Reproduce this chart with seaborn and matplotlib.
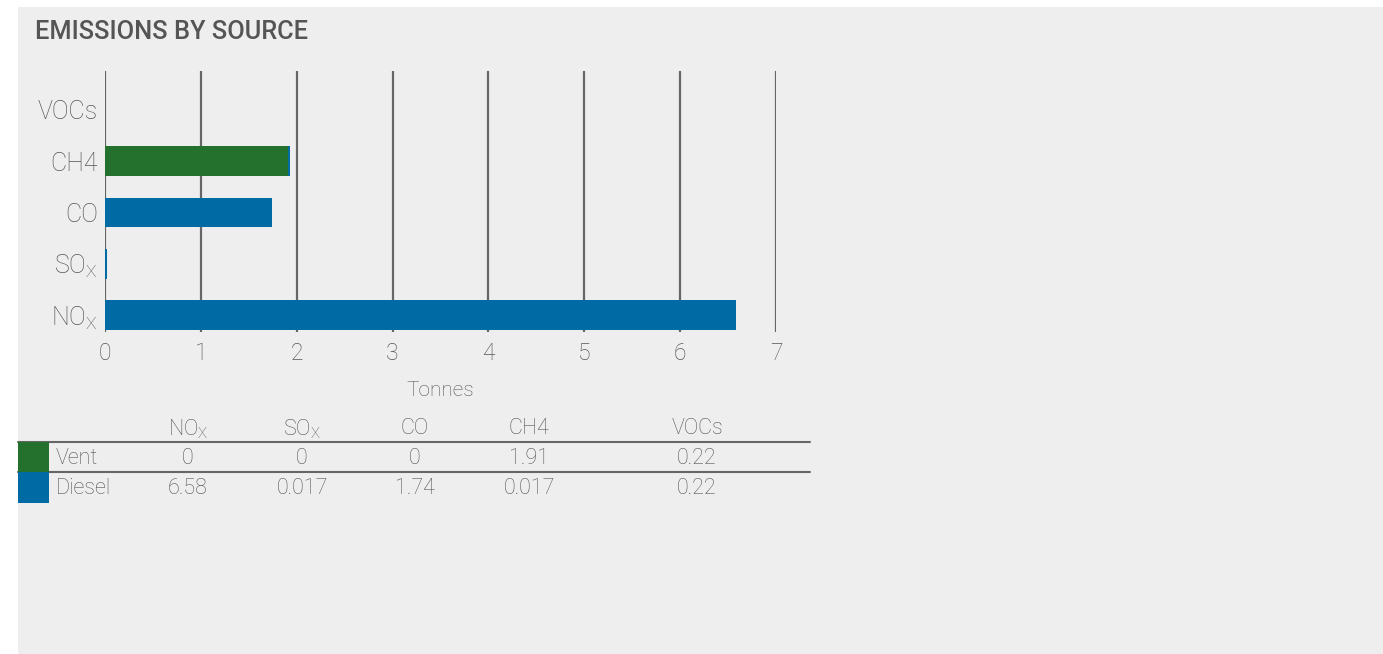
import matplotlib
matplotlib.use("Agg")
import matplotlib.pyplot as plt
from matplotlib.patches import Rectangle
from matplotlib.lines import Line2D
import pandas as pd
import seaborn as sns

# Emissions by pollutant (tonnes) for each source
pollutants = ["NOx", "SOx", "CO", "CH4", "VOCs"]
pollutant_labels = [r"NO$_\mathregular{X}$", r"SO$_\mathregular{X}$", "CO", "CH4", "VOCs"]
vent = [0, 0, 0, 1.91, 0.22]
diesel = [6.58, 0.017, 1.74, 0.017, 0.22]
vent_text = ["0", "0", "0", "1.91", "0.22"]
diesel_text = ["6.58", "0.017", "1.74", "0.017", "0.22"]
# VOCs are reported in the table only, not in the bar chart
charted = [True, True, True, True, False]
x_ticks = [0, 1, 2, 3, 4, 5, 6, 7]

GREEN = "#24712e"
BLUE = "#006aa4"
TEXT = "#555555"
PANEL = "#eeeeee"
FONT = "Roboto"

sns.set_theme(style="white")
plt.rcParams["font.family"] = [FONT, "DejaVu Sans"]
plt.rcParams["mathtext.fontset"] = "custom"
plt.rcParams["mathtext.rm"] = FONT + ":light"

W, H = 1383, 654
fig = plt.figure(figsize=(W / 100, H / 100), dpi=100, facecolor="white")


def fx(px):
    return px / W


def fy(py):
    return 1 - py / H


# light grey card behind everything
fig.patches.append(Rectangle((fx(18), 0), 1 - fx(18), fy(7), transform=fig.transFigure,
                             facecolor=PANEL, edgecolor="none", zorder=-5))

ax = fig.add_axes([fx(105), fy(332), fx(776) - fx(105), fy(71) - fy(332)])
ax.set_facecolor("none")
ax.set_zorder(2)

df = pd.DataFrame({"pollutant": pollutants, "vent": vent, "diesel": diesel, "charted": charted})
df["total"] = df["vent"] + df["diesel"]
bars = df[df["charted"]]
order = pollutants[::-1]  # top to bottom

sns.barplot(data=bars, y="pollutant", x="total", order=order, color=BLUE,
            orient="h", width=0.585, saturation=1, linewidth=0, edgecolor="none",
            ax=ax, zorder=3)
sns.barplot(data=bars, y="pollutant", x="vent", order=order, color=GREEN,
            orient="h", width=0.585, saturation=1, linewidth=0, edgecolor="none",
            ax=ax, zorder=3)

ax.set_xlim(0, 7)
ax.set_ylim(4.332, -0.761)
ax.set_xticks(x_ticks)
ax.set_yticks(range(len(order)))
ax.set_yticklabels(pollutant_labels[::-1])
ax.set_xlabel("")
ax.set_ylabel("")
for s in ax.spines.values():
    s.set_visible(False)
ax.grid(axis="x", color="#666666", linewidth=1.6, zorder=1)
ax.grid(axis="y", visible=False)
ax.set_axisbelow(True)
ax.tick_params(axis="both", length=0, colors=TEXT)
ax.tick_params(axis="x", pad=7, labelsize=16.5)
ax.tick_params(axis="y", pad=5, labelsize=18)
for lab in ax.get_xticklabels() + ax.get_yticklabels():
    lab.set_fontweight("light")

fig.text(fx(440), fy(390), "Tonnes", ha="center", va="center", fontsize=15,
         color=TEXT, fontweight="light")

fig.text(fx(35), fy(32), "EMISSIONS BY SOURCE", ha="left", va="center", fontsize=18.3,
         color="#555555", fontweight="medium")

# data table under the chart
col_x = [188, 302, 415, 529, 697]
for cx, lab in zip(col_x, pollutant_labels):
    fig.text(fx(cx), fy(429), lab, ha="center", va="center", fontsize=15.5,
             color=TEXT, fontweight="light")
for ly in (442, 472):
    fig.add_artist(Line2D([fx(18), fx(810)], [fy(ly), fy(ly)], transform=fig.transFigure,
                          color="#666666", linewidth=1.5))
rows = [("Vent", GREEN, vent_text, 458, 442), ("Diesel", BLUE, diesel_text, 488, 472)]
for name, colr, vals, ty, top in rows:
    fig.patches.append(Rectangle((fx(18), fy(top + 31)), fx(49) - fx(18), fy(top) - fy(top + 31),
                                 transform=fig.transFigure, facecolor=colr, edgecolor="none", zorder=2))
    fig.text(fx(56), fy(ty), name, ha="left", va="center", fontsize=15.5, color=TEXT,
             fontweight="light")
    for cx, v in zip(col_x, vals):
        fig.text(fx(cx), fy(ty), v, ha="center", va="center", fontsize=15.5, color=TEXT,
                 fontweight="light")

fig.savefig("out.png", dpi=100, facecolor="white")
